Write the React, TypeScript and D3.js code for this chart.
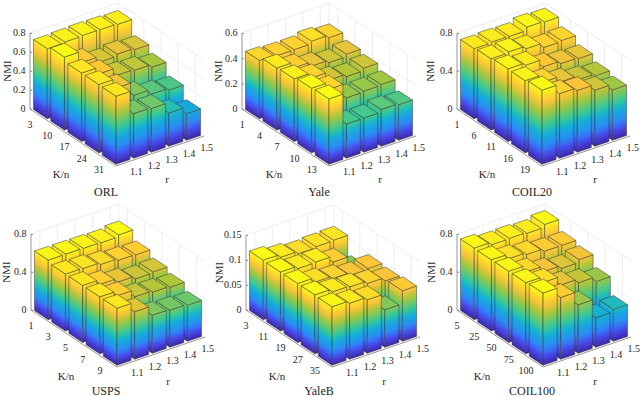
import * as d3 from "d3";

const rLabels = ["1.1", "1.2", "1.3", "1.4", "1.5"];

const orlK = ["3", "10", "17", "24", "31"];
const yaleK = ["1", "4", "7", "10", "13"];
const coil20K = ["1", "6", "11", "16", "19"];
const uspsK = ["1", "3", "5", "7", "9"];
const yaleBK = ["3", "11", "19", "27", "35"];
const coil100K = ["5", "25", "50", "75", "100"];

// NMI by K/n (rows) and r (columns)
const orlNmi = [
  [0.737, 0.744, 0.75, 0.747, 0.74],
  [0.768, 0.65, 0.59, 0.61, 0.595],
  [0.72, 0.65, 0.57, 0.56, 0.53],
  [0.72, 0.62, 0.48, 0.43, 0.41],
  [0.716, 0.47, 0.46, 0.35, 0.28],
];
const yaleNmi = [
  [0.46, 0.45, 0.45, 0.47, 0.45],
  [0.49, 0.445, 0.41, 0.39, 0.41],
  [0.495, 0.455, 0.39, 0.37, 0.39],
  [0.51, 0.455, 0.34, 0.345, 0.35],
  [0.516, 0.27, 0.27, 0.29, 0.28],
];
const coil20Nmi = [
  [0.737, 0.744, 0.74, 0.775, 0.765],
  [0.75, 0.76, 0.73, 0.68, 0.69],
  [0.765, 0.74, 0.66, 0.63, 0.62],
  [0.76, 0.68, 0.62, 0.58, 0.56],
  [0.78, 0.68, 0.65, 0.59, 0.53],
];
const uspsNmi = [
  [0.627, 0.627, 0.625, 0.62, 0.64],
  [0.6, 0.595, 0.575, 0.555, 0.55],
  [0.6, 0.55, 0.51, 0.48, 0.49],
  [0.6, 0.55, 0.475, 0.46, 0.45],
  [0.6, 0.5, 0.4, 0.39, 0.38],
];
const yaleBNmi = [
  [0.119, 0.113, 0.108, 0.11, 0.111],
  [0.118, 0.113, 0.114, 0.102, 0.075],
  [0.118, 0.109, 0.104, 0.098, 0.1],
  [0.118, 0.112, 0.11, 0.105, 0.098],
  [0.117, 0.112, 0.107, 0.075, 0.101],
];
const coil100Nmi = [
  [0.754, 0.726, 0.73, 0.72, 0.75],
  [0.75, 0.7, 0.68, 0.65, 0.65],
  [0.75, 0.68, 0.62, 0.59, 0.62],
  [0.75, 0.69, 0.6, 0.56, 0.51],
  [0.76, 0.65, 0.51, 0.31, 0.335],
];

const orlTicks = [0, 0.2, 0.4, 0.6, 0.8];
const yaleTicks = [0, 0.2, 0.4, 0.6];
const wideTicks = [0, 0.4, 0.8];
const yaleBTicks = [0, 0.05, 0.1, 0.15];

// parula, sampled
const parulaAt = [0, 0.14, 0.22, 0.4, 0.5, 0.7, 0.83, 1];
const parulaColors = ["#3e26a8", "#4752f4", "#2d87f7", "#12b1d6", "#37c897", "#abc739", "#fec338", "#f9fb14"];
const parula = d3.scaleLinear<string>().domain(parulaAt).range(parulaColors);

type Pt = [number, number];
type Panel = {
  id: string; title: string; k: string[]; values: number[][]; ticks: number[];
  left: Pt; front: Pt; right: Pt; top: number; nmiX: number; kLabel: Pt; rLabel: Pt; titleAt: Pt;
};

const panels: Panel[] = [
  { id: "orl", title: "ORL", k: orlK, values: orlNmi, ticks: orlTicks, left: [30, 109], front: [116, 166], right: [204, 136], top: 33, nmiX: 7, kLabel: [61, 174], rLabel: [167, 179], titleAt: [106, 192] },
  { id: "yale", title: "Yale", k: yaleK, values: yaleNmi, ticks: yaleTicks, left: [242, 109], front: [329, 166], right: [416, 136], top: 33, nmiX: 218, kLabel: [274, 174], rLabel: [380, 179], titleAt: [319, 192] },
  { id: "coil20", title: "COIL20", k: coil20K, values: coil20Nmi, ticks: wideTicks, left: [457, 109], front: [542, 166], right: [630, 136], top: 33, nmiX: 430, kLabel: [487, 174], rLabel: [595, 179], titleAt: [532, 192] },
  { id: "usps", title: "USPS", k: uspsK, values: uspsNmi, ticks: wideTicks, left: [31, 310], front: [117, 367], right: [205, 337], top: 234, nmiX: 6, kLabel: [66, 376], rLabel: [168, 381], titleAt: [106, 391.5] },
  { id: "yaleb", title: "YaleB", k: yaleBK, values: yaleBNmi, ticks: yaleBTicks, left: [246, 310], front: [332, 367], right: [420, 337], top: 235, nmiX: 219, kLabel: [277, 376], rLabel: [384, 381], titleAt: [319, 391.5] },
  { id: "coil100", title: "COIL100", k: coil100K, values: coil100Nmi, ticks: wideTicks, left: [457, 310], front: [543, 367], right: [631, 337], top: 234, nmiX: 431, kLabel: [482, 376], rLabel: [595, 381], titleAt: [532, 391.5] },
];

const serif = "'Liberation Serif', 'Times New Roman', serif";
const gridColor = "#e6e6e6";
const axisColor = "#6a6a6a";
const edgeColor = "#3a3a3a";

const outline = d3.line().curve(d3.curveLinearClosed);

function BarPanel({ p }: { p: Panel }) {
  const zMax = p.ticks[p.ticks.length - 1];
  const cMax = d3.max(p.values.flat()) as number;
  const z = d3.scaleLinear([0, zMax], [0, p.left[1] - p.top]);
  const kBand = d3.scaleBand(p.k, [0, 5]).paddingInner(0.2).paddingOuter(0.1);
  const rBand = d3.scaleBand(rLabels, [0, 5]).paddingInner(0.2).paddingOuter(0.1);
  const kVec: Pt = [(p.front[0] - p.left[0]) / 5, (p.front[1] - p.left[1]) / 5];
  const rVec: Pt = [(p.right[0] - p.front[0]) / 5, (p.right[1] - p.front[1]) / 5];
  const at = (k: number, r: number, v: number): Pt => [
    p.left[0] + k * kVec[0] + r * rVec[0],
    p.left[1] + k * kVec[1] + r * rVec[1] - z(v),
  ];
  const kMid = (s: string) => (kBand(s) as number) + kBand.bandwidth() / 2;
  const rMid = (s: string) => (rBand(s) as number) + rBand.bandwidth() / 2;

  // gradient that runs along z only, so its iso-lines follow the foot of the face
  const faceGradient = (a: Pt, b: Pt, id: string) => {
    const d: Pt = [b[0] - a[0], b[1] - a[1]];
    const len = Math.hypot(d[0], d[1]);
    const n: Pt = [-d[1] / len, d[0] / len];
    const h = -z(cMax) * n[1];
    return (
      <linearGradient key={id} id={id} href={`#stops-${p.id}`} gradientUnits="userSpaceOnUse"
        x1={a[0]} y1={a[1]} x2={a[0] + n[0] * h} y2={a[1] + n[1] * h} />
    );
  };

  const stops = d3.range(0, 1.0001, 1 / 16);
  const defs: React.ReactNode[] = [];
  const bars: React.ReactNode[] = [];

  p.k.forEach((kName, i) => {
    // back to front: high r is farther away in each row
    [...rLabels].reverse().forEach((rName) => {
      const j = rLabels.indexOf(rName);
      const v = p.values[i][j];
      const k0 = kBand(kName) as number;
      const k1 = k0 + kBand.bandwidth();
      const r0 = rBand(rName) as number;
      const r1 = r0 + rBand.bandwidth();
      const idL = `${p.id}-${i}-${j}-l`;
      const idR = `${p.id}-${i}-${j}-r`;
      defs.push(faceGradient(at(k0, r0, 0), at(k1, r0, 0), idL));
      defs.push(faceGradient(at(k1, r0, 0), at(k1, r1, 0), idR));
      bars.push(
        <g key={`${i}-${j}`} stroke={edgeColor} strokeWidth={0.6} strokeLinejoin="round" strokeOpacity={0.85}>
          <path d={outline([at(k0, r0, 0), at(k1, r0, 0), at(k1, r0, v), at(k0, r0, v)]) as string} fill={`url(#${idL})`} />
          <path d={outline([at(k1, r0, 0), at(k1, r1, 0), at(k1, r1, v), at(k1, r0, v)]) as string} fill={`url(#${idR})`} />
          <path d={outline([at(k0, r0, v), at(k1, r0, v), at(k1, r1, v), at(k0, r1, v)]) as string} fill={parula(v / cMax)} />
        </g>
      );
    });
  });

  const wallTop = zMax;
  return (
    <g fontFamily={serif} fill="#262626">
      <defs>
        <linearGradient id={`stops-${p.id}`}>
          {stops.map((t) => <stop key={t} offset={t} stopColor={parula(t)} />)}
        </linearGradient>
        {defs}
      </defs>
      <g stroke={gridColor} strokeWidth={0.7} fill="none">
        {p.ticks.map((t) => (
          <path key={t} d={d3.line()([at(0, 0, t), at(0, 5, t), at(5, 5, t)]) as string} />
        ))}
        {rLabels.map((s) => (
          <path key={s} d={d3.line()([at(0, rMid(s), 0), at(0, rMid(s), wallTop)]) as string} />
        ))}
        {p.k.map((s) => (
          <path key={s} d={d3.line()([at(kMid(s), 5, 0), at(kMid(s), 5, wallTop)]) as string} />
        ))}
        {rLabels.map((s) => (
          <path key={`f${s}`} d={d3.line()([at(0, rMid(s), 0), at(5, rMid(s), 0)]) as string} />
        ))}
        {p.k.map((s) => (
          <path key={`f${s}`} d={d3.line()([at(kMid(s), 0, 0), at(kMid(s), 5, 0)]) as string} />
        ))}
        <path d={d3.line()([at(0, 5, 0), at(0, 5, wallTop)]) as string} />
      </g>
      <g stroke={axisColor} strokeWidth={0.7} fill="none">
        <path d={d3.line()([at(0, 0, wallTop), at(0, 0, 0), at(5, 0, 0), at(5, 5, 0)]) as string} />
        {p.ticks.map((t) => {
          const a = at(0, 0, t);
          return <path key={t} d={d3.line()([a, [a[0] + 2, a[1] + 0.7]]) as string} />;
        })}
      </g>
      {bars}
      {p.ticks.map((t) => {
        const a = at(0, 0, t);
        return (
          <text key={t} x={a[0] - 4.5} y={a[1]} dy="0.33em" textAnchor="end" fontSize={10}>{String(t)}</text>
        );
      })}
      {p.k.map((s) => {
        const a = at(kMid(s), 0, 0);
        return <text key={s} x={a[0] - 8.5} y={a[1] + 12.8} textAnchor="middle" fontSize={10}>{s}</text>;
      })}
      {rLabels.map((s) => {
        const a = at(5, rMid(s), 0);
        return <text key={s} x={a[0] + 11.5} y={a[1] + 12.3} textAnchor="middle" fontSize={10}>{s}</text>;
      })}
      <text transform={`translate(${p.nmiX},${(p.left[1] + p.top) / 2}) rotate(-90)`} textAnchor="middle" dy="0.33em" fontSize={11}>NMI</text>
      <text x={p.kLabel[0]} y={p.kLabel[1]} dy="0.33em" textAnchor="middle" fontSize={11}>K/n</text>
      <text x={p.rLabel[0]} y={p.rLabel[1]} dy="0.33em" textAnchor="middle" fontSize={11}>r</text>
      <text x={p.titleAt[0]} y={p.titleAt[1]} dy="0.33em" textAnchor="middle" fontSize={12}>{p.title}</text>
    </g>
  );
}

export default function App() {
  return (
    <svg width={640} height={397} viewBox="0 0 640 397" style={{ position: "absolute", left: 0, top: 0, background: "#fff" }}>
      {panels.map((p) => <BarPanel key={p.id} p={p} />)}
    </svg>
  );
}
